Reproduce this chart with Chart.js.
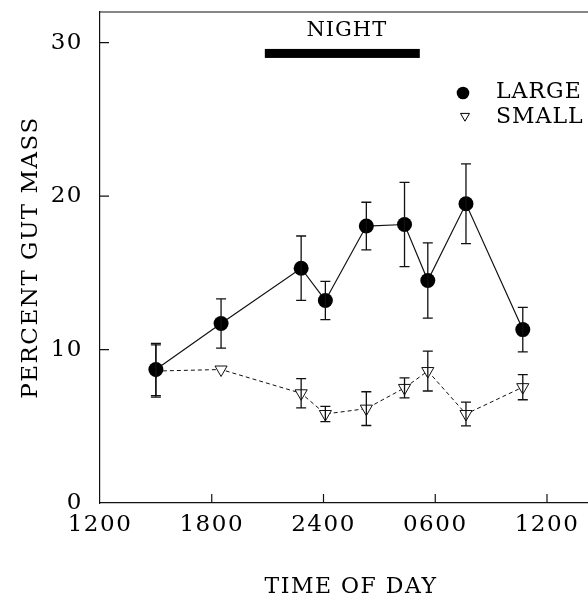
<!DOCTYPE html>
<html>
<head>
<meta charset="utf-8">
<script src="https://cdn.jsdelivr.net/npm/chart.js@4.4.1/dist/chart.umd.min.js"></script>
<style>
  html, body { margin: 0; background: #fff; overflow: hidden; }
  canvas { display: block; }
</style>
</head>
<body>
<canvas id="myChart" width="610" height="600"></canvas>
<script>
// hours since midnight of day 1 (12 = noon, 24 = midnight, 36 = next noon)
const hours = [15.0, 18.5, 22.8, 24.1, 26.3, 28.35, 29.6, 31.65, 34.7];
const large = [8.7, 11.7, 15.3, 13.2, 18.05, 18.15, 14.5, 19.5, 11.3];
const largeErr = [1.7, 1.6, 2.1, 1.25, 1.55, 2.75, 2.45, 2.6, 1.45];
const small = [8.6, 8.7, 7.15, 5.8, 6.15, 7.5, 8.6, 5.8, 7.55];
const smallErr = [1.7, 0, 0.95, 0.5, 1.1, 0.65, 1.3, 0.77, 0.82];
const xTicks = [12, 18, 24, 30, 36];
const xTickLabels = ['1200', '1800', '2400', '0600', '1200'];
const yTicks = [0, 10, 20, 30];
const night = [20.85, 29.17];
const nightLevel = 29.3;

const serif = '"DejaVu Serif", serif';

const toPoints = (ys) => ys.map((v, i) => ({x: hours[i], y: v}));

// error bars with caps, drawn over the markers
const errorBars = {
  id: 'errorBars',
  afterDatasetsDraw(chart) {
    const {ctx, scales: {x, y}} = chart;
    ctx.save();
    ctx.strokeStyle = '#111';
    ctx.lineWidth = 1.3;
    chart.data.datasets.forEach(ds => {
      ds.data.forEach((p, i) => {
        const e = ds.errors[i];
        if (!e) return;
        const px = x.getPixelForValue(p.x);
        const top = y.getPixelForValue(p.y + e);
        const bot = y.getPixelForValue(p.y - e);
        ctx.beginPath();
        ctx.moveTo(px, top); ctx.lineTo(px, bot);
        ctx.moveTo(px - 5, top); ctx.lineTo(px + 5, top);
        ctx.moveTo(px - 5, bot); ctx.lineTo(px + 5, bot);
        ctx.stroke();
      });
    });
    ctx.restore();
  }
};

// frame top line, inward ticks, night bar, legend
const decorations = {
  id: 'decorations',
  beforeDraw(chart) {
    chart.ctx.letterSpacing = '1.5px';
  },
  afterDraw(chart) {
    const {ctx, chartArea: a, scales: {x, y}} = chart;
    ctx.save();
    ctx.strokeStyle = '#111';
    ctx.lineWidth = 1.2;
    ctx.beginPath();
    ctx.moveTo(a.left, a.top); ctx.lineTo(a.right, a.top);
    yTicks.slice(1).forEach(v => {
      const py = y.getPixelForValue(v);
      ctx.moveTo(a.left, py); ctx.lineTo(a.left + 9, py);
    });
    xTicks.slice(1).forEach(v => {
      const px = x.getPixelForValue(v);
      ctx.moveTo(px, a.bottom); ctx.lineTo(px, a.bottom - 9);
    });
    ctx.stroke();

    // night bar
    const ny = y.getPixelForValue(nightLevel);
    const nx0 = x.getPixelForValue(night[0]);
    const nx1 = x.getPixelForValue(night[1]);
    ctx.fillStyle = '#000';
    ctx.fillRect(nx0, ny - 4.5, nx1 - nx0, 9);
    ctx.font = '21px ' + serif;
    ctx.letterSpacing = '1px';
    ctx.textAlign = 'center';
    ctx.textBaseline = 'middle';
    ctx.fillText('NIGHT', x.getPixelForValue(25.25), y.getPixelForValue(30.8));

    // legend
    ctx.textAlign = 'left';
    ctx.font = '22px ' + serif;
    ctx.fillStyle = '#000';
    ctx.strokeStyle = '#000';
    Chart.helpers.drawPoint(ctx, {pointStyle: 'circle', radius: 6.3, borderWidth: 0}, 463, 93);
    ctx.fillText(chart.data.datasets[0].label, 496, 92);
    ctx.fillStyle = '#fff';
    ctx.lineWidth = 1;
    Chart.helpers.drawPoint(ctx, {pointStyle: 'triangle', radius: 5.2, rotation: 180, borderWidth: 1}, 465, 116);
    ctx.fillStyle = '#000';
    ctx.fillText(chart.data.datasets[1].label, 496, 117);
    ctx.restore();
  }
};

const noPadding = s => {
  s.paddingTop = 0; s.paddingBottom = 0;
  s.paddingLeft = 0; s.paddingRight = 0;
};

const data = {
  datasets: [{
    label: 'LARGE',
    data: toPoints(large),
    errors: largeErr,
    borderColor: '#111',
    borderWidth: 1.2,
    backgroundColor: '#000',
    pointRadius: 7.5,
    pointBorderWidth: 0,
    pointBackgroundColor: '#000'
  }, {
    label: 'SMALL',
    data: toPoints(small),
    errors: smallErr,
    borderColor: '#111',
    borderWidth: 1,
    borderDash: [4, 3],
    pointStyle: 'triangle',
    pointRotation: 180,
    pointRadius: 7,
    pointBorderWidth: 1,
    pointBackgroundColor: '#fff',
    pointBorderColor: '#111'
  }]
};

const config = {
  type: 'line',
  data: data,
  options: {
    responsive: false,
    animation: false,
    layout: { padding: { top: 12, right: 0, bottom: 0, left: 0 } },
    plugins: {
      legend: { display: false },
      tooltip: { enabled: false }
    },
    scales: {
      x: {
        type: 'linear',
        min: 12,
        max: 38.5,
        afterBuildTicks: s => { s.ticks = xTicks.map(v => ({value: v})); },
        afterFit: s => { s.height = 97; noPadding(s); },
        grid: { display: false, drawTicks: false },
        border: { display: true, color: '#111', width: 1.2 },
        ticks: {
          color: '#000',
          font: { family: serif, size: 23 },
          padding: 8,
          maxRotation: 0,
          callback: (v, i) => xTickLabels[i]
        },
        title: {
          display: true,
          text: 'TIME OF DAY',
          color: '#000',
          font: { family: serif, size: 22 },
          padding: { top: 0, bottom: 0 }
        }
      },
      y: {
        min: 0,
        max: 32,
        afterBuildTicks: s => { s.ticks = yTicks.map(v => ({value: v})); },
        afterFit: s => { s.width = 100; noPadding(s); },
        grid: { display: false, drawTicks: false },
        border: { display: true, color: '#111', width: 1.2 },
        ticks: {
          color: '#000',
          font: { family: serif, size: 23 },
          padding: 17
        },
        title: {
          display: true,
          text: 'PERCENT GUT MASS',
          color: '#000',
          font: { family: serif, size: 23 },
          padding: { top: 17, bottom: 0 }
        }
      }
    }
  },
  plugins: [errorBars, decorations]
};

const myChart = new Chart(document.getElementById('myChart'), config);

// the frame runs off the right edge of the page; stretch the time range so
// that 12 h -> 36 h spans 447 px as in the original
const area = myChart.chartArea;
myChart.options.scales.x.max = 12 + 24 * (area.right - area.left) / 447;
myChart.update();
</script>
</body>
</html>
